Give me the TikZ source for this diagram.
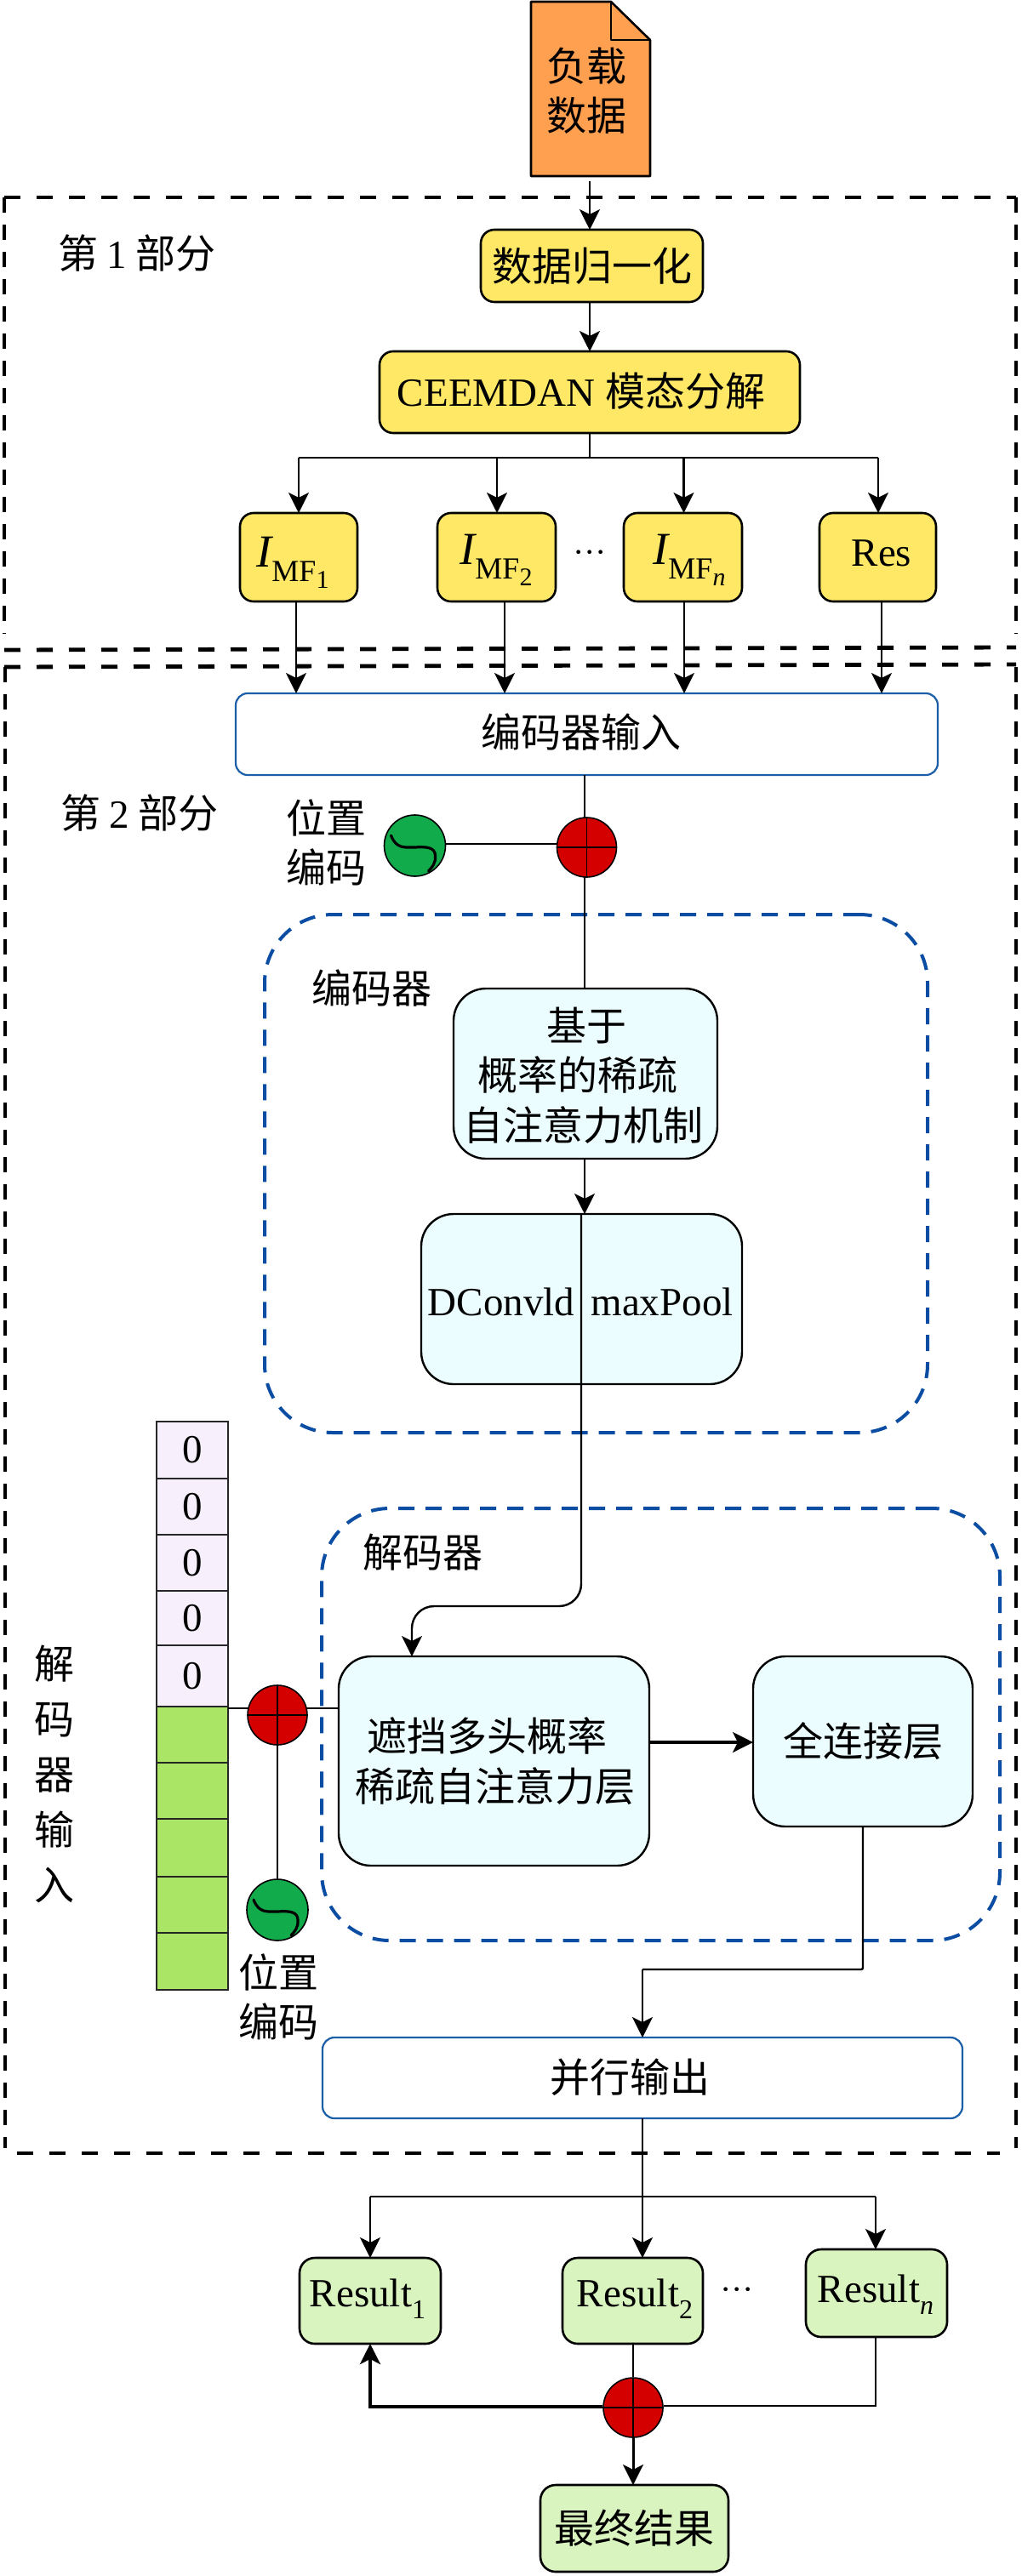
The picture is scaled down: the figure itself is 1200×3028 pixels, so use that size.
\documentclass[tikz,border=0pt]{standalone}
\usepackage{fontspec}
\setmainfont{Liberation Serif}
\newfontfamily\cjk{Noto Sans CJK SC}
\usetikzlibrary{arrows.meta,calc}
\definecolor{yel}{HTML}{FFE866}
\definecolor{org}{HTML}{FF9F50}
\definecolor{cyn}{HTML}{EBFDFF}
\definecolor{rgr}{HTML}{D9F4BE}
\definecolor{sgr}{HTML}{ABE566}
\definecolor{pnk}{HTML}{F7F0FC}
\definecolor{bld}{HTML}{0B4DA2}
\definecolor{blb}{HTML}{1B5FA8}
\definecolor{redc}{HTML}{D40000}
\definecolor{grnc}{HTML}{12AB4C}
\newcommand\mysize{\fontsize{23.5}{29}\selectfont}
\newcommand\bx[7]{\pgfmathsetmacro\cxx{(#2+#4)/2}\pgfmathsetmacro\cyy{(#3+#5)/2}\pgfmathsetmacro\ww{(#4-#2)*0.5}\pgfmathsetmacro\hh{(#5-#3)*0.5}\node[#6,minimum width=\ww pt,minimum height=\hh pt,inner sep=0pt,outer sep=0pt] (#1) at (\cxx,\cyy) {#7};}
\newcommand\imfsub[1]{{\fontsize{27}{27}\selectfont\itshape I}\raisebox{-0.36em}{\fontsize{18}{18}\selectfont MF\raisebox{-0.22em}{\fontsize{15}{15}\selectfont #1}}}
\newcommand\ressub[1]{Result\raisebox{-0.3em}{\fontsize{16}{16}\selectfont #1}}
\newcommand\squiggle[1]{\draw[line width=1.6pt,line cap=round] ($(#1.center)+(-28,-12)$) .. controls ($(#1.center)+(-22,4)$) and ($(#1.center)+(-12,2)$) .. ($(#1.center)+(0,2)$) .. controls ($(#1.center)+(14,1)$) and ($(#1.center)+(24,2)$) .. ($(#1.center)+(24,12)$) .. controls ($(#1.center)+(25,20)$) and ($(#1.center)+(20,26)$) .. ($(#1.center)+(16,30)$);}
\tikzset{
  x=0.5pt,y=-0.5pt,
  every node/.style={font=\mysize},
  txt/.style={inner sep=0pt,align=center},
  cj/.style={inner sep=0pt,align=center,font=\mysize\cjk},
  conn/.style={line width=1.2pt,draw=black},
  arr/.style={conn,-{Stealth[length=12pt,width=12pt,inset=3pt]}},
  ybox/.style={draw=black,line width=1.3pt,fill=yel,rounded corners=8pt},
  cbox/.style={draw=black,line width=1.2pt,fill=cyn,rounded corners=19pt},
  wbox/.style={draw=blb,line width=1.1pt,fill=white,rounded corners=7pt},
  rbox/.style={draw=black,line width=1.3pt,fill=rgr,rounded corners=9pt},
  pcell/.style={draw=black!85,line width=1.4pt,fill=pnk},
  gcell/.style={draw=black!85,line width=1.4pt,fill=sgr},
  bdash/.style={draw=bld,line width=2pt,dash pattern=on 9.5pt off 6.5pt,rounded corners=40pt},
  ksec/.style={line width=2.4pt,draw=black},
  khor/.style={ksec,dash pattern=on 9.5pt off 9.5pt},
  kver/.style={ksec,dash pattern=on 9pt off 7pt},
  sumc/.style={circle,draw=black,line width=.8pt,fill=redc,minimum size=35pt,inner sep=0pt,
    path picture={\draw[line width=.8pt] (path picture bounding box.north)--(path picture bounding box.south) (path picture bounding box.west)--(path picture bounding box.east);}},
  posc/.style={circle,draw=black,line width=.8pt,fill=grnc,minimum size=36pt,inner sep=0pt},
}
\begin{document}
\begin{tikzpicture}
\useasboundingbox (0,0) rectangle (1200,3028);
\fill[white] (0,0) rectangle (1200,3028);

% part frames
\draw[khor] (5,232) -- (1194,232);
\draw[kver] (5,232) -- (5,745);
\draw[kver] (1194,232) -- (1194,745);
\draw[khor] (5,764) -- (1194,761);
\draw[khor] (5,784) -- (1194,781);
\draw[kver] (6,784) -- (6,2525);
\draw[kver] (1194,784) -- (1194,2525);
\draw[khor] (20,2531) -- (1175,2531);
\node[cj] (p1) at (161,298) {第 {\rmfamily 1} 部分};
\node[cj] (p2) at (164,956) {第 {\rmfamily 2} 部分};

% document
\bx{doc}{624}{2}{764}{207}{}{}
\filldraw[fill=org,draw=black,line width=1.3pt,line join=round] (624,2) -- (718,2) -- (764,47) -- (764,207) -- (624,207) -- cycle;
\draw[line width=1.3pt,line join=round] (718,2) -- (718,47) -- (764,47);
\node[cj] (doct) at (689,107) {负载\\数据};

% part 1
\bx{norm}{565}{270}{826}{355}{ybox,font=\mysize\cjk}{数据归一化}
\bx{cee}{446}{413}{940}{509}{ybox}{}
\node[txt] (ceet) at (683,460) {CEEMDAN {\cjk 模态分解}};
\bx{m1}{282}{603}{420}{707}{ybox}{}
\bx{m2}{514}{603}{653}{707}{ybox}{}
\bx{mn}{733}{603}{872}{707}{ybox}{}
\bx{res}{963}{603}{1100}{707}{ybox}{}
\node[txt] (m1t) at (344,661) {\imfsub{1}};
\node[txt] (m2t) at (583,658) {\imfsub{2}};
\node[txt] (mnt) at (810,658) {\imfsub{\itshape n}};
\node[txt] (rest) at (1036,650) {Res};
\node[txt,font=\fontsize{20}{20}\selectfont] (dots1) at (693,655) {···};

% encoder input
\bx{ein}{277}{815}{1102}{911}{wbox,font=\mysize\cjk}{}
\node[cj] (eint) at (683,860) {编码器输入};

\draw[arr] ([yshift=-3pt]693,0 |- doc.south) -- (693,0 |- norm.north);
\draw[arr] (693,0 |- norm.south) -- (693,0 |- cee.north);
\draw[conn] (693,0 |- cee.south) -- (693,538);
\coordinate (bl) at (351,538);
\coordinate (br) at (1032,538);
\draw[conn] (bl) -- (br);
\draw[arr] (bl) -- (bl |- m1.north);
\draw[arr] (584,538) -- (584,0 |- m2.north);
\draw[arr] (803.5,538) -- (803.5,0 |- mn.north);
\draw[arr] (br) -- (br |- res.north);
\draw[arr] (348,0 |- m1.south) -- (348,0 |- ein.north);
\draw[arr] (593,0 |- m2.south) -- (593,0 |- ein.north);
\draw[arr] (804,0 |- mn.south) -- (804,0 |- ein.north);
\draw[arr] (1036,0 |- res.south) -- (1036,0 |- ein.north);

% encoder
\bx{enc}{311}{1075}{1090}{1684}{bdash}{}
\node[cj] (enct) at (437,1161) {编码器};
\node[cj] (pos1t) at (383,990) {位置\\编码};
\bx{prob}{533}{1162}{843}{1362}{cbox}{}
\node[cj] (pa) at (689,1206) {基于};
\node[cj] (pb) at (679,1264) {概率的稀疏};
\node[cj] (pc) at (685,1323) {自注意力机制};
\bx{dconv}{495}{1427}{872}{1627}{cbox}{}
\node[txt] (dct) at (589,1530) {DConvld};
\node[txt] (mpt) at (778,1530) {maxPool};
\draw[conn] (687,0 |- ein.south) -- (687,0 |- prob.north);
\node[sumc] (s1) at (689.5,996) {};
\node[posc] (g1) at (487.5,994) {};
\squiggle{g1}
\draw[conn,line width=1.4pt] (g1.east |- 0,992) -- (s1.west |- 0,992);
\draw[arr] (687,0 |- prob.south) -- (687,0 |- dconv.north);

% decoder
\bx{dec}{378}{1773}{1175}{2281}{bdash}{}
\node[cj] (dect) at (497,1825) {解码器};
\bx{mask}{398}{1947}{763}{2193}{cbox}{}
\node[cj] (ma) at (572,2041) {遮挡多头概率};
\node[cj] (mb) at (582,2100) {稀疏自注意力层};
\bx{fc}{885}{1947}{1143}{2147}{cbox,font=\mysize\cjk}{全连接层}
\draw[arr,rounded corners=13pt] (683,0 |- dconv.north) -- (683,1888) -- (484,1888) -- (484,0 |- mask.north);
\draw[arr,line width=1.6pt] (mask.east |- 0,2048) -- (fc.west |- 0,2048);

% decoder input stack
\bx{z1}{184}{1671}{268}{1738}{pcell}{0}
\bx{z2}{184}{1738}{268}{1804}{pcell}{0}
\bx{z3}{184}{1804}{268}{1870}{pcell}{0}
\bx{z4}{184}{1870}{268}{1934}{pcell}{0}
\bx{z5}{184}{1934}{268}{2006}{pcell}{0}
\bx{g6}{184}{2006}{268}{2072}{gcell}{}
\bx{g7}{184}{2072}{268}{2138}{gcell}{}
\bx{g8}{184}{2138}{268}{2206}{gcell}{}
\bx{g9}{184}{2206}{268}{2272}{gcell}{}
\bx{g10}{184}{2272}{268}{2339}{gcell}{}
\node[cj,font=\fontsize{23.5}{32.5}\selectfont\cjk] (vin) at (64,2085) {解\\码\\器\\输\\入};
\draw[conn,line width=1.4pt] (268,2008) -- (mask.west |- 0,2008);
\node[posc] (g2) at (326,2245) {};
\squiggle{g2}
\node[sumc] (s2) at (326,2016) {};
\draw[conn] (s2.south) -- (g2.north);
\node[cj] (pos2t) at (327.5,2347) {位置\\编码};

% output
\bx{par}{379}{2395}{1131}{2490}{wbox}{}
\node[cj] (part) at (740,2442) {并行输出};
\draw[conn,rounded corners=1pt] (fc.south -| 1014,0) -- (1014,2315) -- (755,2315);
\draw[arr,rounded corners=1pt] (755,2315) -- (755,0 |- par.north);

\bx{r1}{352}{2654}{518}{2755}{rbox}{}
\bx{r2}{661}{2654}{826}{2755}{rbox}{}
\bx{rn}{947}{2644}{1113}{2747}{rbox}{}
\node[txt] (r1t) at (432,2702) {\ressub{1}};
\node[txt] (r2t) at (746,2702) {\ressub{2}};
\node[txt] (rnt) at (1029,2697) {\ressub{\itshape n}};
\node[txt,font=\fontsize{20}{20}\selectfont] (dots2) at (866,2697) {···};
\bx{fin}{635}{2921}{856}{3023}{rbox,font=\mysize\cjk}{最终结果}

\draw[arr] (755,0 |- par.south) -- (755,0 |- r2.north);
\draw[conn] (435,2582) -- (1029,2582);
\draw[arr] (435,2582) -- (435,0 |- r1.north);
\draw[arr] (1029,2582) -- (1029,0 |- rn.north);
\node[sumc] (s3) at (744,2830) {};
\draw[conn] (744,0 |- r2.south) -- (s3.north);
\draw[conn] (1029,0 |- rn.south) -- (1029,2828) -- (s3.east |- 0,2828);
\draw[arr,line width=2pt] (s3.west |- 0,2829) -- (435,2829) -- (435,0 |- r1.south);
\draw[arr,line width=1.5pt] (s3.south) -- (fin.north -| s3.south);
\end{tikzpicture}
\end{document}
